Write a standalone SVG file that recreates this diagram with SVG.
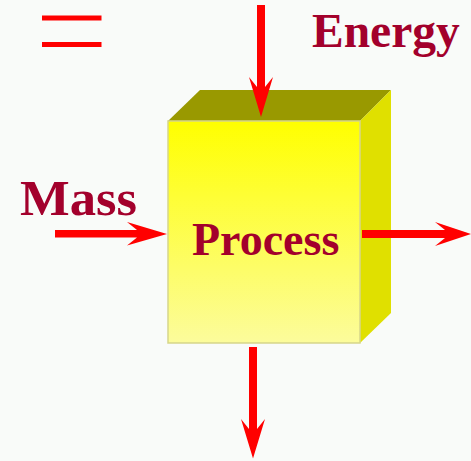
<svg xmlns="http://www.w3.org/2000/svg" width="471" height="461" viewBox="0 0 471 461">
<style>
.lbl{font-family:"Liberation Serif","Times New Roman",serif;font-weight:bold;fill:#a3002c}
.arr{fill:#ff0000}
.eq{fill:#ff0000}
</style>
<defs>
<linearGradient id="front" x1="0" y1="0" x2="0" y2="1">
<stop offset="0" stop-color="#ffff00"/>
<stop offset="1" stop-color="#fcfc9c"/>
</linearGradient>
</defs>
<rect width="471" height="461" fill="#f9fbf9"/>
<g id="equals">
<rect class="eq" x="42" y="15.5" width="59.5" height="5"/>
<rect class="eq" x="42" y="42" width="59.5" height="5"/>
</g>
<g id="process">
<polygon points="168,121 200,90 391,90 360,121" fill="#999900"/>
<polygon points="360,121 391,90 391,313 360,343" fill="#e0e000"/>
<rect x="168" y="121" width="192" height="222" fill="url(#front)" stroke="#d6d68a" stroke-width="1.5"/>
<text class="lbl" x="192" y="255" font-size="46">Process</text>
</g>
<g id="energy">
<text class="lbl" x="312" y="46.5" font-size="47.5">Energy</text>
</g>
<g id="mass">
<text class="lbl" x="20" y="215" font-size="51" textLength="117" lengthAdjust="spacingAndGlyphs">Mass</text>
</g>
<g id="connectors">
<path class="arr" d="M257,5 L257,87 L249,77 L261,117 L273,77 L265,87 L265,5 Z"/>
<path class="arr" d="M362,230 L445,230 L435,222 L471,234 L435,246 L445,238 L362,238 Z"/>
<path class="arr" d="M55,230 L137,230 L127,222 L167,234 L127,245.5 L137,237.5 L55,237.5 Z"/>
<path class="arr" d="M249,347 L249,429 L241,419 L253,458.5 L265,419 L257,429 L257,347 Z"/>
</g>
</svg>
